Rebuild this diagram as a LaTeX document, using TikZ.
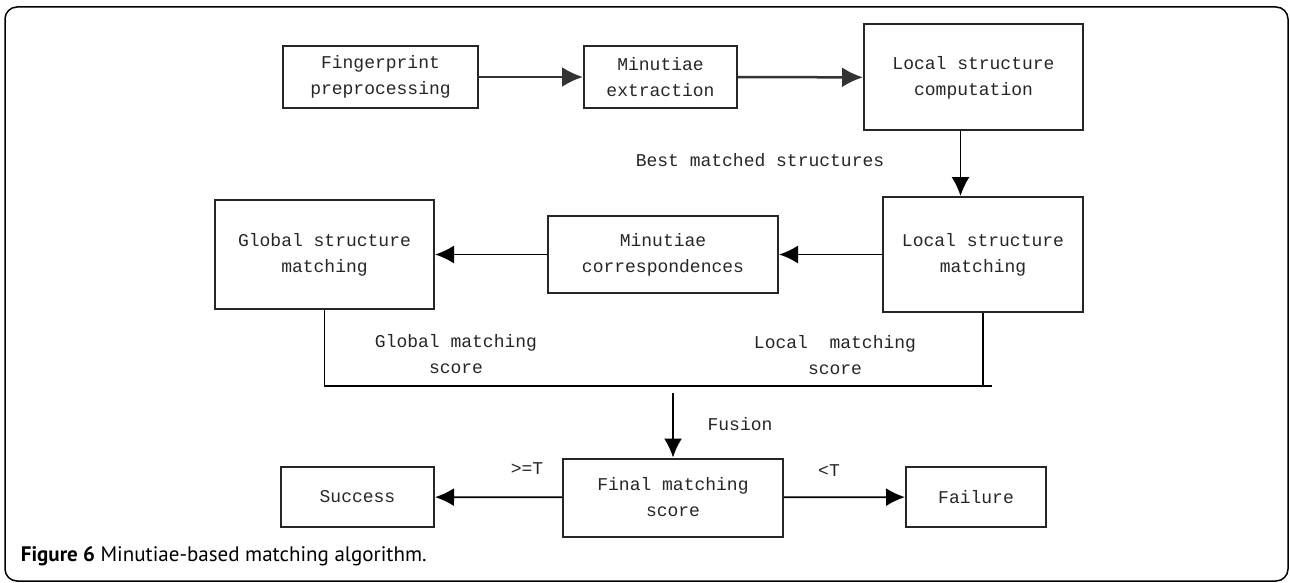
\documentclass[tikz,border=0pt]{standalone}
\usepackage{fontspec}
\setmonofont{Liberation Mono}
\newfontfamily\capfont{PT Sans}
\usetikzlibrary{arrows.meta}
\tikzset{
  blk/.style={draw=black!85, line width=2pt, align=center, inner sep=0pt, text=black!85,
    font=\ttfamily\fontsize{18}{26}\selectfont},
  lbl/.style={align=center, inner sep=0pt, text=black!85,
    font=\ttfamily\fontsize{18}{26}\selectfont},
  bigarr/.style={line width=2.5pt, draw=black!80, -{Latex[length=21pt,width=20pt]}},
}
\begin{document}
\begin{tikzpicture}[x=1pt, y=-1pt, line width=1.8pt, >={Latex[length=19pt,width=18pt]}]
\useasboundingbox (0,0) rectangle (1290,583);
\draw [line width=1.5pt, rounded corners=12pt] (5,7) rectangle (1288,581);

\node[blk, minimum width=195pt, minimum height=62pt] (fpp) at (380.5,77) {Fingerprint\\preprocessing};
\node[blk, minimum width=153pt, minimum height=62pt] (mext) at (660.5,77) {Minutiae\\extraction};
\node[blk, minimum width=219pt, minimum height=106pt] (lsc) at (973.5,77.5) {Local structure\\computation};
\node[blk, minimum width=200pt, minimum height=115pt] (lsm) at (983,254.5) {Local structure\\matching};
\node[blk, minimum width=230pt, minimum height=77pt] (mcorr) at (663,254.5) {Minutiae\\correspondences};
\node[blk, minimum width=219pt, minimum height=109pt] (gsm) at (324.5,254.5) {Global structure\\matching};
\node[blk, minimum width=220pt, minimum height=78pt] (fms) at (673,497.5) {Final matching\\score};
\node[blk, minimum width=153pt, minimum height=60pt] (succ) at (357.5,497) {Success};
\node[blk, minimum width=140pt, minimum height=60pt] (fail) at (976,497) {Failure};

\node[lbl] (best) at (760,160) {Best matched structures};
\node[lbl] (gscore) at (456,354) {Global matching\\score};
\node[lbl] (lscore) at (835,355) {Local\ \ matching\\score};
\node[lbl] (fusion) at (740,424) {Fusion};
\node[lbl] (ge) at (527,469) {>=T};
\node[lbl] (lt) at (829,471) {<T};
\node[anchor=base west, inner sep=0pt, font=\capfont\fontsize{21}{24}\selectfont] (cap) at (20,561)
  {\textbf{Figure 6} Minutiae-based matching algorithm.};

\coordinate (rjoin) at (992,386);
\coordinate (fstart) at (673,393);

\draw [bigarr] (fpp) -- (mext);
\draw [bigarr] (mext) -- (lsc);
\draw [->, line width=1.5pt] ([xshift=-13pt]lsc.south) -- ([xshift=-13pt]lsc.south |- lsm.north);
\draw [->] (lsm) -- (mcorr);
\draw [->] (mcorr) -- (gsm);
\draw [line width=1.5pt] (gsm.south) |- (rjoin);
\draw [line width=1.5pt] (lsm.south) -- (lsm.south |- rjoin);
\draw [->] (fstart) -- (fms.north);
\draw [->] (fms) -- (succ);
\draw [->] (fms) -- (fail);
\end{tikzpicture}
\end{document}
